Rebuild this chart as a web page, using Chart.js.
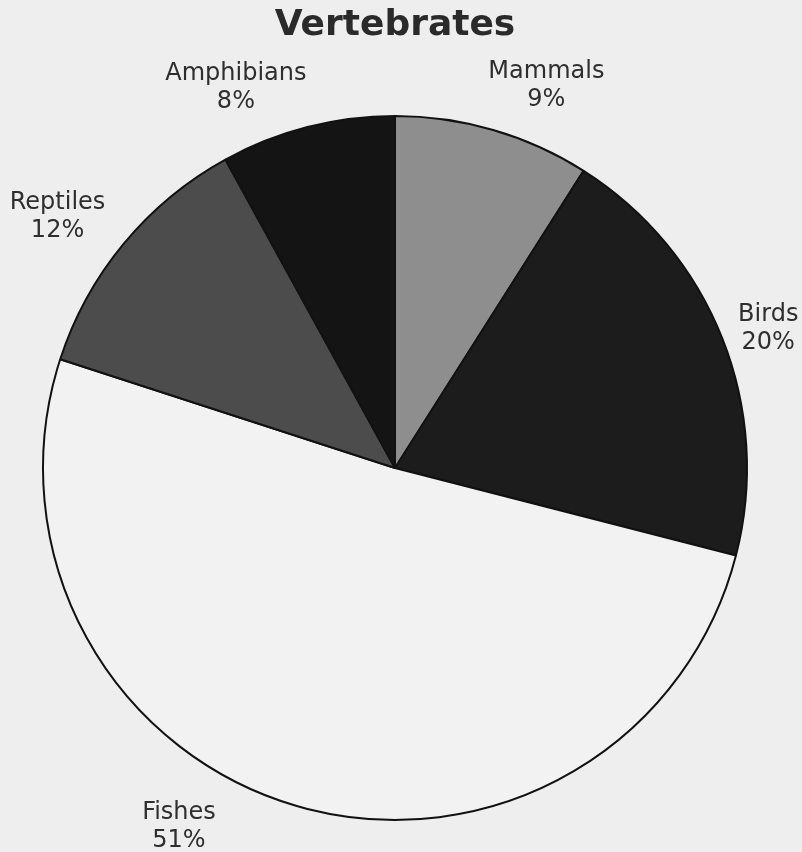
<!DOCTYPE html>
<html>
<head>
<meta charset="utf-8">
<script src="https://cdn.jsdelivr.net/npm/chart.js@4"></script>
<style>
  html, body { margin: 0; padding: 0; background: #eeeeee; }
  #wrap { width: 802px; height: 852px; }
</style>
</head>
<body>
<div id="wrap"><canvas id="pieChart" width="802" height="852"></canvas></div>
<script>
const categories = ["Mammals", "Birds", "Fishes", "Reptiles", "Amphibians"];
const percentages = [9, 20, 51, 12, 8];

const sliceColors = ["#8e8e8e", "#1c1c1c", "#f2f2f2", "#4c4c4c", "#141414"];
// label placement relative to the slice middle (degrees shift, distance from centre)
const labelShift = [5.3, 0.9, 15.0, -2.7, -8.2];
const labelDist = [413, 399, 417, 422, 414];

const outsideLabels = {
  id: "outsideLabels",
  afterDraw(chart) {
    const ctx = chart.ctx;
    const arcs = chart.getDatasetMeta(0).data;
    ctx.save();
    ctx.font = "24px 'DejaVu Sans', Verdana, sans-serif";
    ctx.fillStyle = "#2e2e2e";
    ctx.textAlign = "center";
    ctx.textBaseline = "middle";
    arcs.forEach((arc, i) => {
      const p = arc.getProps(["x", "y", "startAngle", "endAngle"], true);
      const mid = (p.startAngle + p.endAngle) / 2 + labelShift[i] * Math.PI / 180;
      const x = p.x + Math.cos(mid) * labelDist[i];
      const y = p.y + Math.sin(mid) * labelDist[i];
      ctx.fillText(categories[i], x, y - 12);
      ctx.fillText(percentages[i] + "%", x, y + 16);
    });
    ctx.restore();
  },
};

new Chart(document.getElementById("pieChart"), {
  type: "pie",
  data: {
    labels: categories,
    datasets: [
      {
        data: percentages,
        backgroundColor: sliceColors,
        borderColor: "#111111",
        borderWidth: 2,
      },
    ],
  },
  options: {
    responsive: false,
    animation: false,
    radius: 352,
    layout: { padding: { left: 0, right: 12, top: 0, bottom: 0 } },
    plugins: {
      legend: { display: false },
      tooltip: { enabled: false },
      title: {
        display: true,
        text: "Vertebrates",
        color: "#2a2a2a",
        font: { family: "'DejaVu Sans', Verdana, sans-serif", size: 36, weight: "bold", lineHeight: 1.2 },
        padding: { top: 4, bottom: 36.8 },
      },
    },
  },
  plugins: [outsideLabels],
});
</script>
</body>
</html>
